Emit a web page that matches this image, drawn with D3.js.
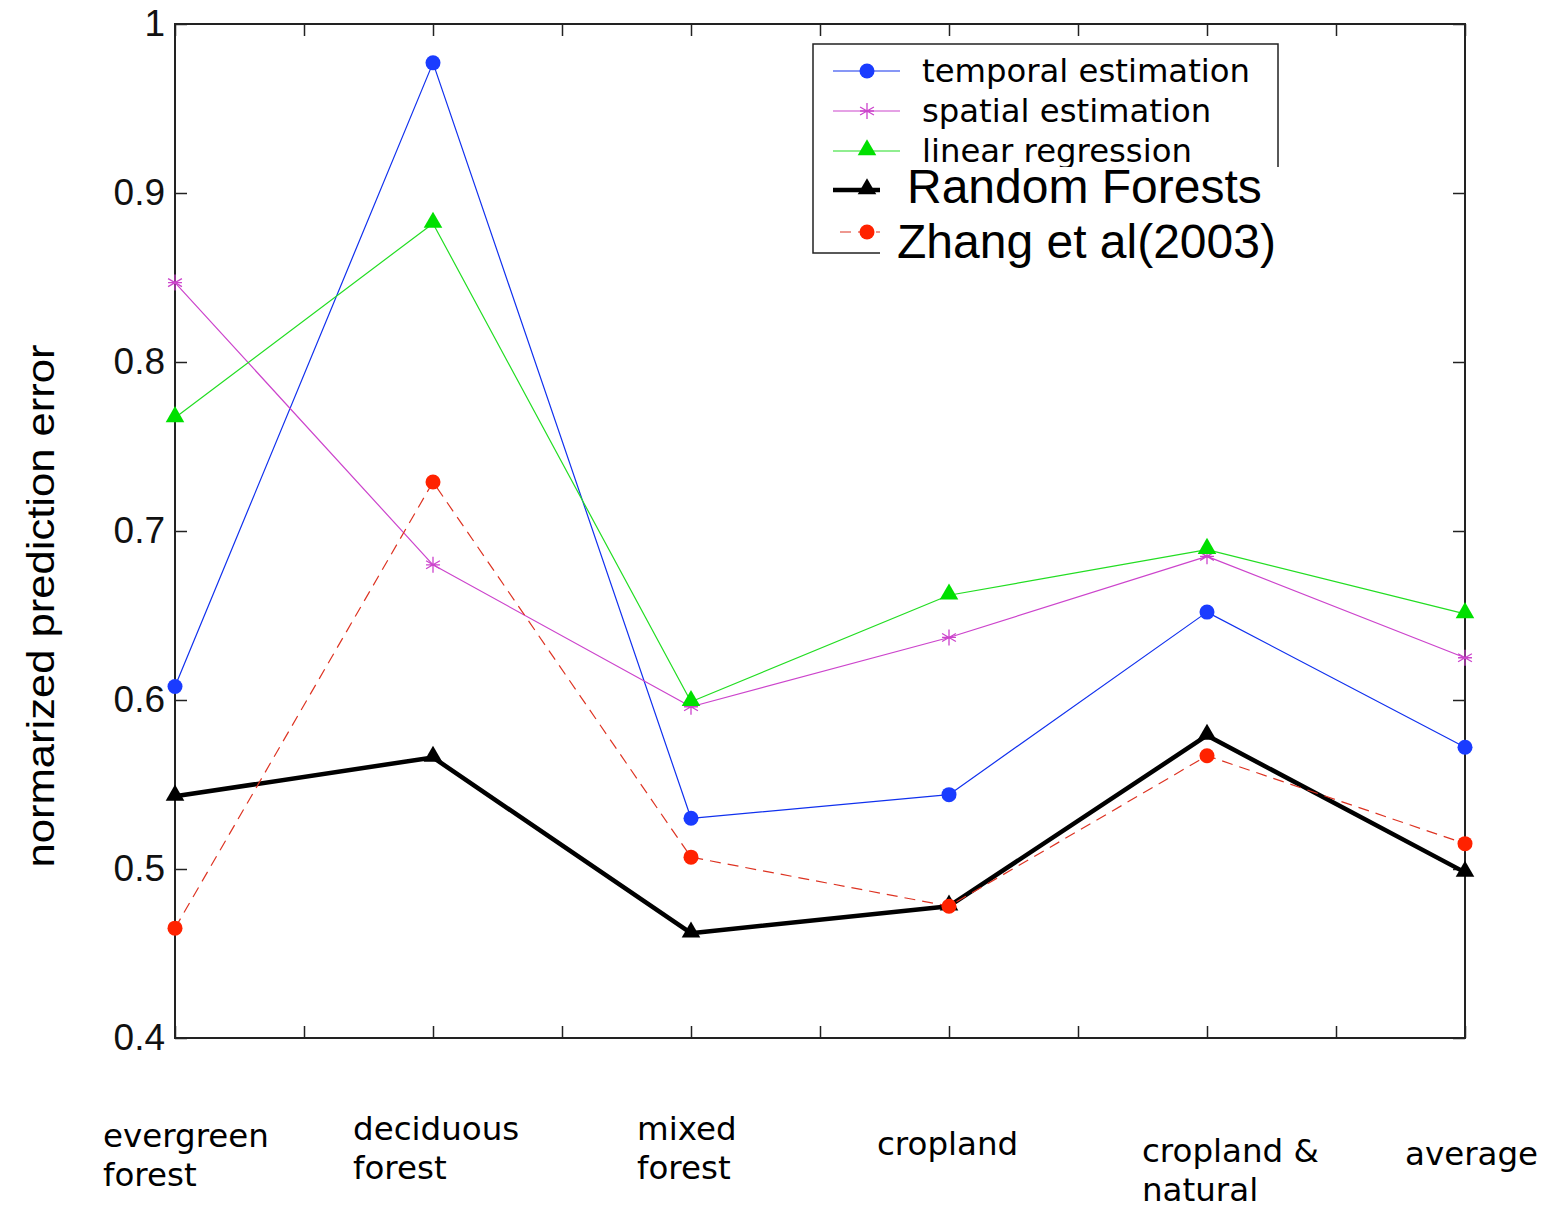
<!DOCTYPE html>
<html>
<head>
<meta charset="utf-8">
<script src="https://cdn.jsdelivr.net/npm/d3@7"></script>
<style>
  body { margin: 0; background: #fff; }
  svg { display: block; }
</style>
</head>
<body>
<div id="chart"></div>
<script>
// categories on the x axis (each label may wrap onto two lines)
const categories = [
  ['evergreen', 'forest'],
  ['deciduous', 'forest'],
  ['mixed', 'forest'],
  ['cropland'],
  ['cropland &', 'natural'],
  ['average']
];

const temporal = [0.608, 0.977, 0.530, 0.544, 0.652, 0.572];
const spatial = [0.847, 0.680, 0.596, 0.637, 0.685, 0.625];
const linreg = [0.767, 0.882, 0.599, 0.662, 0.689, 0.651];
const randomForests = [0.543, 0.566, 0.462, 0.478, 0.579, 0.498];
const zhang = [0.465, 0.729, 0.507, 0.478, 0.567, 0.515];

const yTicks = [0.4, 0.5, 0.6, 0.7, 0.8, 0.9, 1];
const yTickLabels = ['0.4', '0.5', '0.6', '0.7', '0.8', '0.9', '1'];

// where each x label sits relative to its tick (the original is hand placed)
const labelNudge = [[-72, 1147], [-80, 1140], [-54, 1140], [-72, 1155], [-65, 1162], [-60, 1165]];

var width = 1548, height = 1209;
var mLeft = 175, mRight = 1465, mTop = 24, mBottom = 1038;

var svg = d3.select('#chart')
  .append('svg')
  .attr('width', width)
  .attr('height', height);

var xscale = d3.scaleLinear().domain([0, categories.length - 1]).range([mLeft, mRight]);
var yscale = d3.scaleLinear().domain([0.4, 1]).range([mBottom, mTop]);

var gothic = '"DejaVu Sans", "Noto Sans CJK JP", sans-serif';
var arial = '"Liberation Sans", Arial, sans-serif';

// axes box with inward ticks on all four sides
var xticks = d3.range(0, categories.length - 0.5 + 0.01, 0.5);

svg.append('g')
  .attr('transform', 'translate(0,' + mBottom + ')')
  .call(d3.axisBottom(xscale).tickValues(xticks).tickSize(-12).tickFormat(''))
  .call(g => g.select('.domain').remove());
svg.append('g')
  .attr('transform', 'translate(0,' + mTop + ')')
  .call(d3.axisTop(xscale).tickValues(xticks).tickSize(-12).tickFormat(''))
  .call(g => g.select('.domain').remove());

var yaxis = svg.append('g')
  .attr('transform', 'translate(' + mLeft + ',0)')
  .call(d3.axisLeft(yscale).tickValues(yTicks).tickSize(-12).tickPadding(10)
    .tickFormat((d, i) => yTickLabels[i]))
  .call(g => g.select('.domain').remove());
yaxis.selectAll('text')
  .style('font-family', arial)
  .style('font-size', '37px')
  .attr('fill', '#111');
svg.append('g')
  .attr('transform', 'translate(' + mRight + ',0)')
  .call(d3.axisRight(yscale).tickValues(yTicks).tickSize(-12).tickFormat(''))
  .call(g => g.select('.domain').remove());

svg.selectAll('.tick line').attr('stroke', '#222').attr('stroke-width', 1.5);

svg.append('rect')
  .attr('x', mLeft).attr('y', mTop)
  .attr('width', mRight - mLeft).attr('height', mBottom - mTop)
  .attr('fill', 'none').attr('stroke', '#222').attr('stroke-width', 2);

// y axis title
svg.append('text')
  .attr('transform', 'translate(54,' + ((mTop + mBottom) / 2 + 75) + ') rotate(-90)')
  .attr('text-anchor', 'middle')
  .style('font-family', arial)
  .style('font-size', '38px')
  .attr('textLength', 523)
  .attr('lengthAdjust', 'spacingAndGlyphs')
  .text('normarized prediction error');

// x category labels
categories.forEach((lines, i) => {
  var t = svg.append('text')
    .attr('x', xscale(i) + labelNudge[i][0])
    .attr('y', labelNudge[i][1])
    .style('font-family', gothic)
    .style('font-size', '32.5px');
  lines.forEach((s, j) => {
    t.append('tspan')
      .attr('x', xscale(i) + labelNudge[i][0])
      .attr('dy', j === 0 ? 0 : 39)
      .text(s);
  });
});

var series = [
  { name: 'temporal estimation', values: temporal, color: '#1030ee', marker: 'circle', mcolor: '#1a3cff', width: 1.2 },
  { name: 'spatial estimation', values: spatial, color: '#cc44cc', marker: 'star', mcolor: '#cc44cc', width: 1.2 },
  { name: 'linear regression', values: linreg, color: '#22dd22', marker: 'triangle', mcolor: '#00e000', width: 1.2 },
  { name: 'Random Forests', values: randomForests, color: '#000', marker: 'triangle', mcolor: '#000', width: 4.5 },
  { name: 'Zhang et al(2003)', values: zhang, color: '#dd3322', marker: 'circle', mcolor: '#ff2200', width: 1.2, dash: '11,7' }
];

var line = d3.line()
  .x((d, i) => xscale(i))
  .y(d => yscale(d));

function drawMarker(g, s, x, y) {
  if (s.marker === 'circle') {
    g.append('circle').attr('cx', x).attr('cy', y).attr('r', 7.5).attr('fill', s.mcolor);
  } else if (s.marker === 'triangle') {
    g.append('path')
      .attr('d', d3.symbol(d3.symbolTriangle, 150)())
      .attr('transform', 'translate(' + x + ',' + (y - 1) + ')')
      .attr('fill', s.mcolor);
  } else {
    var r = 8;
    var star = '';
    [0, 60, 120].forEach(a => {
      var rad = (a + 90) * Math.PI / 180;
      star += 'M' + (-r * Math.cos(rad)) + ',' + (-r * Math.sin(rad)) + 'L' + (r * Math.cos(rad)) + ',' + (r * Math.sin(rad));
    });
    star += 'M' + (-r * 0.87) + ',0L' + (r * 0.87) + ',0';
    g.append('path')
      .attr('d', star)
      .attr('transform', 'translate(' + x + ',' + y + ')')
      .attr('stroke', s.mcolor).attr('stroke-width', 1.3).attr('fill', 'none');
  }
}

var plot = svg.append('g');
series.forEach(s => {
  plot.append('path')
    .datum(s.values)
    .attr('d', line)
    .attr('fill', 'none')
    .attr('stroke', s.color)
    .attr('stroke-width', s.width)
    .attr('stroke-dasharray', s.dash || null)
    .attr('stroke-linejoin', 'round');
  s.values.forEach((v, i) => drawMarker(plot, s, xscale(i), yscale(v)));
});

// legend box (the last two entries were pasted over it in the original)
var legend = svg.append('g');
legend.append('rect')
  .attr('x', 813).attr('y', 44).attr('width', 465).attr('height', 209)
  .attr('fill', '#fff').attr('stroke', '#222').attr('stroke-width', 1.5);

var rowY = [71, 111, 151];
series.slice(0, 3).forEach((s, i) => {
  legend.append('line')
    .attr('x1', 833).attr('x2', 900).attr('y1', rowY[i]).attr('y2', rowY[i])
    .attr('stroke', s.color).attr('stroke-width', s.width);
  drawMarker(legend, s, 867, rowY[i]);
  legend.append('text')
    .attr('x', 922).attr('y', rowY[i] + 11)
    .style('font-family', gothic)
    .style('font-size', '32.3px')
    .text(s.name);
});

// pasted-over block
legend.append('rect')
  .attr('x', 880).attr('y', 167).attr('width', 405).attr('height', 103)
  .attr('fill', '#fff');

var rf = series[3], zh = series[4];
legend.append('line')
  .attr('x1', 833).attr('x2', 880).attr('y1', 190).attr('y2', 190)
  .attr('stroke', rf.color).attr('stroke-width', rf.width);
drawMarker(legend, rf, 867, 190);
legend.append('line')
  .attr('x1', 840).attr('x2', 880).attr('y1', 232).attr('y2', 232)
  .attr('stroke', zh.color).attr('stroke-width', 1.2).attr('stroke-dasharray', '11,7');
drawMarker(legend, zh, 867, 232);

legend.append('text')
  .attr('x', 907).attr('y', 203)
  .style('font-family', arial).style('font-size', '48px')
  .text(rf.name);
legend.append('text')
  .attr('x', 897).attr('y', 258)
  .style('font-family', arial).style('font-size', '48px')
  .text(zh.name);
</script>
</body>
</html>
